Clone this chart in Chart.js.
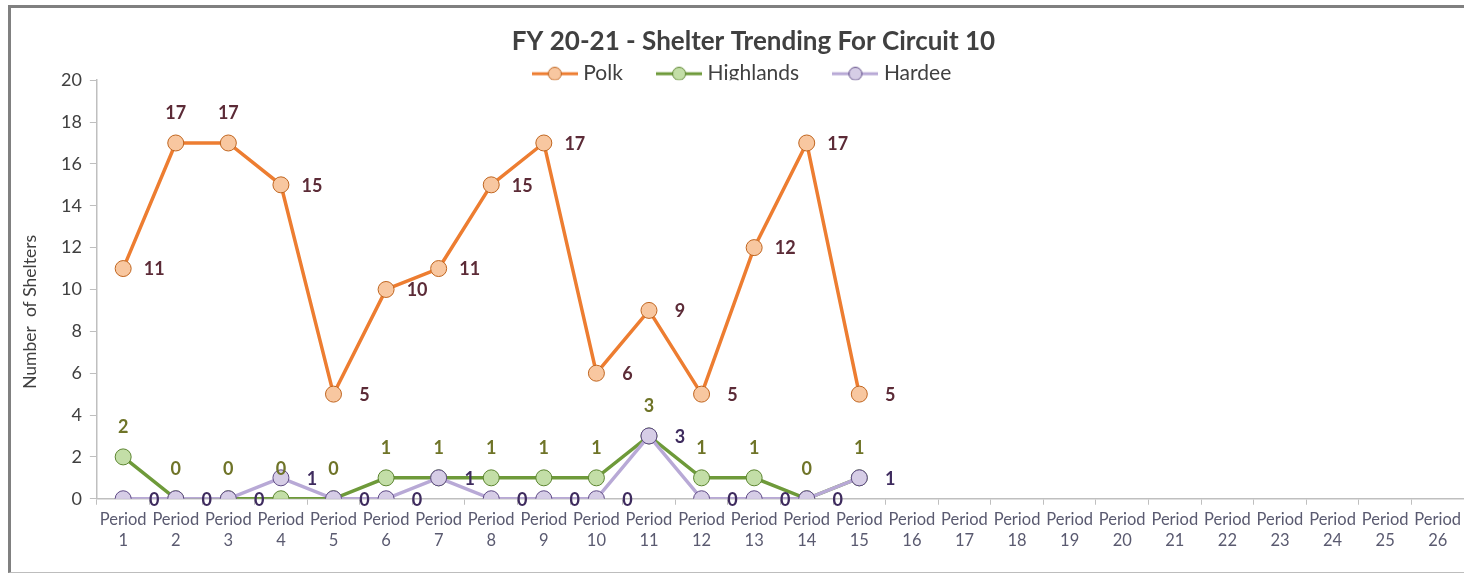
<!DOCTYPE html>
<html>
<head>
<meta charset="utf-8">
<script src="https://cdn.jsdelivr.net/npm/chart.js@4"></script>
<style>
  html, body { margin: 0; background: #fff; overflow: hidden; }
  #wrap { position: relative; width: 1464px; height: 573px; overflow: hidden; }
  #frame { position: absolute; left: 8px; top: 5px; width: 1470px; height: 564px;
           border-top: 3px solid #808080; border-left: 3px solid #808080; border-bottom: 1px solid #bdbdbd; }
  canvas { position: absolute; left: 0; top: 0; }
</style>
</head>
<body>
<div id="wrap">
  <div id="frame"></div>
  <!-- a bit wider than the window so the x axis runs to the right edge like the original -->
  <canvas id="shelterChart" width="1473" height="573"></canvas>
</div>
<script>
let periods = [];
for (let i = 1; i <= 26; i++) periods.push(["Period", String(i)]);

let polk      = [11, 17, 17, 15, 5, 10, 11, 15, 17, 6, 9, 5, 12, 17, 5];
let highlands = [2, 0, 0, 0, 0, 1, 1, 1, 1, 1, 3, 1, 1, 0, 1];
let hardee    = [0, 0, 0, 1, 0, 0, 1, 0, 0, 0, 3, 0, 0, 0, 1];

let yTicks = [0, 2, 4, 6, 8, 10, 12, 14, 16, 18, 20];

// where each label sits relative to its point
let polkLabelPos = ["right", "top", "top", "right", "right", "right", "right", "right",
                    "right", "right", "right", "right", "right", "right", "right"];

function legendIcon(line, fill, border){
    let c = document.createElement("canvas");
    c.width = 46; c.height = 16;
    let ctx = c.getContext("2d");
    ctx.strokeStyle = line;
    ctx.lineWidth = 3;
    ctx.beginPath(); ctx.moveTo(0, 8); ctx.lineTo(46, 8); ctx.stroke();
    ctx.fillStyle = fill;
    ctx.strokeStyle = border;
    ctx.lineWidth = 1;
    ctx.beginPath(); ctx.arc(23, 8, 6.5, 0, Math.PI * 2); ctx.fill(); ctx.stroke();
    return c;
}

const valueLabels = {
    id: "valueLabels",
    afterDatasetsDraw(chart){
        let ctx = chart.ctx;
        ctx.save();
        ctx.font = "bold 18px Lato";
        ctx.textBaseline = "middle";
        ctx.textAlign = "center";
        chart.data.datasets.forEach((ds, di) => {
            let meta = chart.getDatasetMeta(di);
            meta.data.forEach((pt, i) => {
                let pos = ds.labelPos ? ds.labelPos[i] : ds.labelSide;
                let x = pt.x, y = pt.y;
                if (pos === "right") { x += 31; y += 1; }
                else { y -= 30; }
                ctx.fillStyle = ds.labelColor;
                ctx.fillText(String(ds.data[i]), x, y);
            });
        });
        ctx.restore();
    }
};

// legend sits tight on top of the plot
const legendTight = {
    id: "legendTight",
    beforeInit(chart){
        let fit = chart.legend.fit;
        chart.legend.fit = function(){
            fit.bind(chart.legend)();
            this.height = 23;
        };
    }
};

let chart = new Chart(document.getElementById("shelterChart"), {
    type: "line",
    data: {
        labels: periods,
        datasets: [
            {
                label: "Polk",
                data: polk,
                borderColor: "#ed7d31",
                backgroundColor: "#f8c7a0",
                pointBorderColor: "#c0651f",
                pointBackgroundColor: "#f8c7a0",
                borderWidth: 3.5,
                pointRadius: 8,
                pointBorderWidth: 1,
                labelPos: polkLabelPos,
                labelColor: "#5c2b37",
                order: 2,
                legendImg: legendIcon("#ed7d31", "#f8c7a0", "#c0651f")
            },
            {
                label: "Highlands",
                data: highlands,
                borderColor: "#6e9a3a",
                backgroundColor: "#c3dea7",
                pointBorderColor: "#5c8530",
                pointBackgroundColor: "#c3dea7",
                borderWidth: 3.5,
                pointRadius: 8,
                pointBorderWidth: 1,
                labelSide: "top",
                labelColor: "#6f7428",
                order: 1,
                legendImg: legendIcon("#6e9a3a", "#c3dea7", "#5c8530")
            },
            {
                label: "Hardee",
                data: hardee,
                borderColor: "#b8a9d6",
                backgroundColor: "#d6cde6",
                pointBorderColor: "#5e4a85",
                pointBackgroundColor: "#d6cde6",
                borderWidth: 3.5,
                pointRadius: 8,
                pointBorderWidth: 1,
                labelSide: "right",
                labelColor: "#3e2b5e",
                order: 0,
                legendImg: legendIcon("#b8a9d6", "#d6cde6", "#5e4a85")
            }
        ]
    },
    options: {
        responsive: false,
        animation: false,
        layout: { padding: { left: 16, right: 1, top: 26, bottom: 18 } },
        plugins: {
            title: {
                display: true,
                text: "   FY 20-21 - Shelter Trending For Circuit 10",
                color: "#404040",
                font: { family: "Lato", size: 26, weight: "bold" },
                padding: { top: 0, bottom: 0 }
            },
            legend: {
                display: true,
                labels: {
                    color: "#404040",
                    font: { family: "Lato", size: 21 },
                    usePointStyle: true,
                    pointStyleWidth: 36,
                    boxHeight: 16,
                    padding: 6,
                    generateLabels(chart){
                        return chart.data.datasets.map((ds, i) => ({
                            text: i < 2 ? ds.label + "      " : ds.label,
                            pointStyle: ds.legendImg,
                            fillStyle: ds.borderColor,
                            strokeStyle: ds.borderColor,
                            lineWidth: 0,
                            fontColor: "#404040",
                            datasetIndex: i,
                            hidden: false
                        }));
                    }
                }
            },
            tooltip: { enabled: false }
        },
        scales: {
            x: {
                offset: true,
                afterFit(axis){ axis.paddingRight = 0; axis.paddingLeft = 0; },
                grid: {
                    display: true,
                    offset: true,
                    drawOnChartArea: false,
                    tickLength: 6,
                    color: "#bfbfbf"
                },
                border: { color: "#bfbfbf", width: 1.5 },
                ticks: {
                    color: "#5a5a70",
                    font: { family: "Lato", size: 16.5, lineHeight: 1.28 },
                    maxRotation: 0,
                    autoSkip: false,
                    padding: 4
                }
            },
            y: {
                min: 0,
                max: 20,
                afterBuildTicks(axis){ axis.ticks = yTicks.map(v => ({ value: v })); },
                grid: {
                    display: true,
                    drawOnChartArea: false,
                    tickLength: 7,
                    color: "#bfbfbf"
                },
                border: { color: "#bfbfbf", width: 1.5 },
                ticks: {
                    color: "#404040",
                    font: { family: "Lato", size: 18 },
                    padding: 8
                },
                title: {
                    display: true,
                    text: "Number  of Shelters          ",
                    color: "#404040",
                    font: { family: "Lato", size: 17.5 },
                    padding: { bottom: 12 }
                }
            }
        }
    },
    plugins: [valueLabels, legendTight]
});
</script>
</body>
</html>
